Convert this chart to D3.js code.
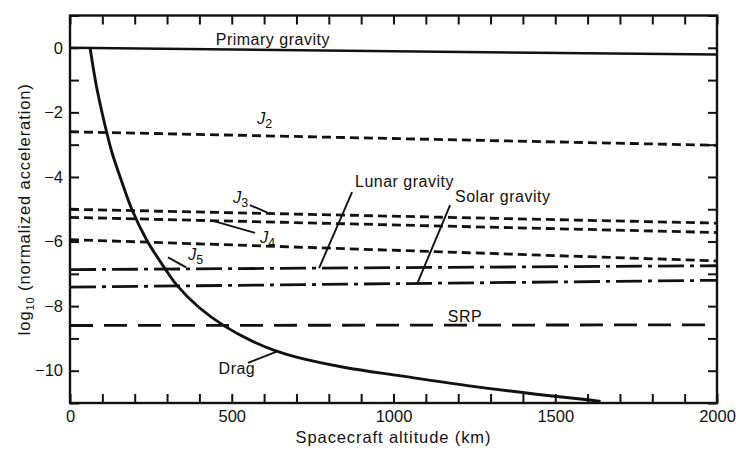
<!DOCTYPE html>
<html><head><meta charset="utf-8">
<script src="https://cdn.jsdelivr.net/npm/d3@7"></script>
<style>
body{margin:0;background:#fff}
text{font-family:"Liberation Sans",Arial,Helvetica,sans-serif;fill:#111}
</style>
</head><body>
<svg id="c" width="736" height="451"></svg>
<script>
// ---- data ----
const xTickValues = d3.range(0, 2001, 100);
const xTickLabels = [0, 500, 1000, 1500, 2000];
const yTickValues = d3.range(-11, 2, 1);
const yTickLabels = [0, -2, -4, -6, -8, -10];

const lineAlt = [0, 2000];
const primaryGravity = [0, -0.21];
const j2 = [-2.6, -3.02];
const j3 = [-5.0, -5.43];
const j4 = [-5.25, -5.72];
const j5 = [-5.94, -6.6];
const lunarGravity = [-6.87, -6.75];
const solarGravity = [-7.41, -7.2];
const srp = [-8.6, -8.58];

const dragAlt = [62, 80, 100, 113, 130, 155, 191, 237, 295, 330, 400, 478, 560, 634, 700, 850, 1022, 1228, 1435, 1600, 1640];
const dragVal = [0, -1.1, -2.05, -2.6, -3.25, -4.0, -5.0, -5.95, -6.86, -7.35, -8.05, -8.62, -9.07, -9.38, -9.58, -9.9, -10.16, -10.46, -10.72, -10.9, -10.95];

// ---- setup ----
const svg = d3.select("#c");
const x = d3.scaleLinear().domain([0, 2000]).range([70, 717]);
const y = d3.scaleLinear().domain([-11, 1]).range([403, 15.5]);
const minus = v => (v < 0 ? "\u2212" + Math.abs(v) : "" + v);

svg.append("clipPath").attr("id", "pc").append("rect")
  .attr("x", x(0)).attr("y", y(1)).attr("width", x(2000) - x(0)).attr("height", y(-11) - y(1));

// axes
const tickLen = 9;
const gB = svg.append("g").attr("transform", `translate(0,${y(-11)})`)
  .call(d3.axisBottom(x).tickValues(xTickValues).tickSizeInner(-tickLen).tickSizeOuter(0).tickPadding(7)
    .tickFormat(d => xTickLabels.includes(d) ? d : ""));
const gT = svg.append("g").attr("transform", `translate(0,${y(1)})`)
  .call(d3.axisTop(x).tickValues(xTickValues).tickSizeInner(-tickLen).tickSizeOuter(0).tickFormat(""));
const gL = svg.append("g").attr("transform", `translate(${x(0)},0)`)
  .call(d3.axisLeft(y).tickValues(yTickValues).tickSizeInner(-tickLen).tickSizeOuter(0).tickPadding(7)
    .tickFormat(d => yTickLabels.includes(d) ? minus(d) : ""));
const gR = svg.append("g").attr("transform", `translate(${x(2000)},0)`)
  .call(d3.axisRight(y).tickValues(yTickValues).tickSizeInner(-tickLen).tickSizeOuter(0).tickFormat(""));
[gB, gT, gL, gR].forEach(g => {
  g.select(".domain").remove();
  g.selectAll(".tick line").attr("stroke", "#111").attr("stroke-width", 2);
  g.selectAll(".tick text").attr("font-size", 16.5).attr("fill", "#111")
    .style("font-family", '"Liberation Sans",Arial,sans-serif');
});
svg.append("rect").attr("x", x(0)).attr("y", y(1)).attr("width", x(2000) - x(0)).attr("height", y(-11) - y(1))
  .attr("fill", "none").attr("stroke", "#111").attr("stroke-width", 2.4);

// axis titles
svg.append("text").attr("x", (x(0) + x(2000)) / 2).attr("y", 443).attr("text-anchor", "middle")
  .attr("font-size", 16.5).attr("letter-spacing", 0.9).text("Spacecraft altitude (km)");
const yl = svg.append("text").attr("transform", `translate(30,${(y(1) + y(-11)) / 2}) rotate(-90)`)
  .attr("text-anchor", "middle").attr("font-size", 16.5).attr("letter-spacing", 0.9);
yl.append("tspan").text("log");
yl.append("tspan").attr("font-size", 11).attr("dy", 4).text("10");
yl.append("tspan").attr("dy", -4).text(" (normalized acceleration)");

// lines
const plot = svg.append("g").attr("clip-path", "url(#pc)");
const line = d3.line().x(d => x(d[0])).y(d => y(d[1]));
const series = [
  {v: primaryGravity, dash: null, w: 2.5},
  {v: j2, dash: "9,5", w: 2.8},
  {v: j3, dash: "9,5", w: 2.8},
  {v: j4, dash: "9,5", w: 2.8},
  {v: j5, dash: "9,5", w: 2.8},
  {v: lunarGravity, dash: "26,6,4,6", w: 2.8},
  {v: solarGravity, dash: "26,6,4,6", w: 2.8},
  {v: srp, dash: "23,11", w: 2.8}
];
series.forEach(s => {
  plot.append("path").datum(lineAlt.map((a, i) => [a, s.v[i]]))
    .attr("d", line).attr("fill", "none").attr("stroke", "#111").attr("stroke-width", s.w)
    .attr("stroke-dasharray", s.dash);
});
const dragLine = d3.line().x(d => x(d[0])).y(d => y(d[1])).curve(d3.curveCatmullRom.alpha(0.5));
plot.append("path").datum(dragAlt.map((a, i) => [a, dragVal[i]]))
  .attr("d", dragLine).attr("fill", "none").attr("stroke", "#111").attr("stroke-width", 2.9);

// annotations
const leaders = [
  [[556, -4.87], [621, -5.15]],
  [[572, -5.73], [442, -5.36]],
  [[359, -6.8], [303, -6.49]],
  [[872, -4.47], [770, -6.82]],
  [[1175, -4.87], [1073, -7.31]],
  [[550, -9.76], [637, -9.42]]
];
const straight = d3.line().x(d => x(d[0])).y(d => y(d[1]));
leaders.forEach(l => svg.append("path").attr("d", straight(l)).attr("stroke", "#111").attr("stroke-width", 1.9).attr("fill", "none"));

const labels = [
  {t: "Primary gravity", a: 627, v: 0.09, anchor: "middle"},
  {t: "Lunar gravity", a: 881, v: -4.31, anchor: "start"},
  {t: "Solar gravity", a: 1190, v: -4.78, anchor: "start"},
  {t: "SRP", a: 1168, v: -8.49, anchor: "start"},
  {t: "Drag", a: 516, v: -10.1, anchor: "middle"}
];
labels.forEach(l => svg.append("text").attr("x", x(l.a)).attr("y", y(l.v)).attr("text-anchor", l.anchor)
  .attr("font-size", 16).attr("letter-spacing", 0.5).text(l.t));

const jLabels = [
  {n: "2", a: 578, v: -2.36},
  {n: "3", a: 504, v: -4.81},
  {n: "4", a: 587, v: -6.04},
  {n: "5", a: 365, v: -6.57}
];
jLabels.forEach(l => {
  const t = svg.append("text").attr("x", x(l.a)).attr("y", y(l.v)).attr("font-size", 16.5);
  t.append("tspan").attr("font-style", "italic").text("J");
  t.append("tspan").attr("font-size", 12.5).attr("dy", 4).text(l.n);
});
</script>
</body></html>
